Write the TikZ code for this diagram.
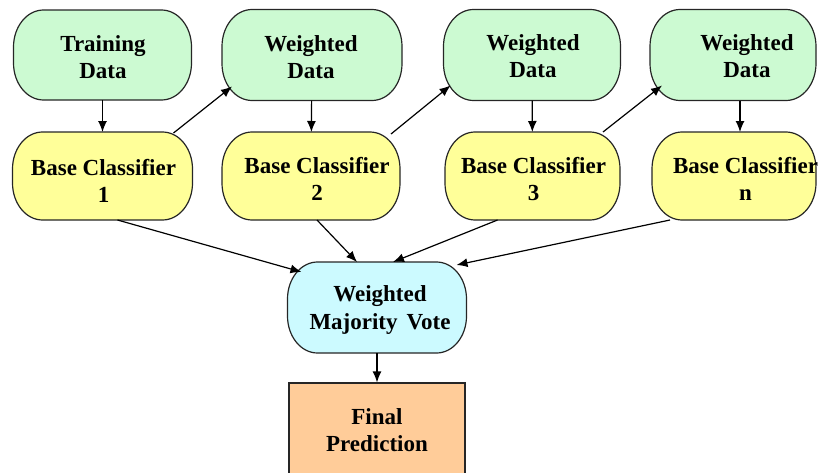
\documentclass[tikz,border=0pt]{standalone}
\usepackage{fontspec}
\setmainfont{Liberation Serif}
\usetikzlibrary{arrows.meta,calc}
\definecolor{gfill}{RGB}{204,250,210}
\definecolor{yfill}{RGB}{255,255,153}
\definecolor{cfill}{RGB}{204,250,255}
\definecolor{ofill}{RGB}{255,204,153}
\newcommand\myovalbox[2]{%
  \path[boxline, fill=#2] let \p1=(#1.north west), \p2=(#1.south east) in
   (\x1+30pt,\y1) -- (\x2-30pt,\y1)
   arc[start angle=90,end angle=0,x radius=30pt,y radius=37pt] -- (\x2,\y2+37pt)
   arc[start angle=0,end angle=-90,x radius=30pt,y radius=37pt] -- (\x1+30pt,\y2)
   arc[start angle=270,end angle=180,x radius=30pt,y radius=37pt] -- (\x1,\y1-37pt)
   arc[start angle=180,end angle=90,x radius=30pt,y radius=37pt] -- cycle;}
\begin{document}
\begin{tikzpicture}[x=1pt,y=-1pt,
  boxline/.style={draw=black!85, line width=1.2pt},
  framenode/.style={inner sep=0pt, outer sep=0pt},
  txt/.style={inner sep=0pt, align=center, font=\fontsize{23}{27.5}\selectfont\bfseries},
  orangebox/.style={boxline, fill=ofill, inner sep=0pt},
  arr/.style={draw=black, line width=1.2pt, -{Latex[length=11pt,width=9pt]}}]
\useasboundingbox (0,0) rectangle (819,472);
\clip (0,0) rectangle (819,472);
% frame nodes (outlines drawn below)
\node[framenode, minimum width=178pt, minimum height=90pt] (td) at (102.5,55) {};
\node[framenode, minimum width=180pt, minimum height=91pt] (wd1) at (312,55) {};
\node[framenode, minimum width=177pt, minimum height=91pt] (wd2) at (532,55) {};
\node[framenode, minimum width=166pt, minimum height=91pt] (wd3) at (733,55) {};
\node[framenode, minimum width=180pt, minimum height=88pt] (bc1) at (102.5,176) {};
\node[framenode, minimum width=178pt, minimum height=88pt] (bc2) at (311,176) {};
\node[framenode, minimum width=175pt, minimum height=88pt] (bc3) at (532.5,176) {};
\node[framenode, minimum width=164pt, minimum height=88pt] (bcn) at (734,176) {};
\node[framenode, minimum width=179pt, minimum height=91pt] (wmv) at (377,307.5) {};
\myovalbox{td}{gfill}
\myovalbox{wd1}{gfill}
\myovalbox{wd2}{gfill}
\myovalbox{wd3}{gfill}
\myovalbox{bc1}{yfill}
\myovalbox{bc2}{yfill}
\myovalbox{bc3}{yfill}
\myovalbox{bcn}{yfill}
\myovalbox{wmv}{cfill}
\node[orangebox, minimum width=176pt, minimum height=94pt] (fp) at (377,430) {};
% texts
\node[txt] (tdt) at (103,57) {Training\\Data};
\node[txt] (wd1t) at (311,57) {Weighted\\Data};
\node[txt] (wd2t) at (533,56) {Weighted\\Data};
\node[txt] (wd3t) at (747,56) {Weighted\\Data};
\node[txt] (bc1t) at (103.5,181) {Base Classifier\\1};
\node[txt] (bc2t) at (317,179) {Base Classifier\\2};
\node[txt] (bc3t) at (533.5,179) {Base Classifier\\3};
\node[txt] (bcnt) at (745.5,179) {Base Classifier\\n};
\node[txt] (wmvt) at (380,310) {Weighted\\Majority\hspace{9pt}Vote};
\node[txt] (fpt) at (377,430) {Final\\Prediction};
% connectors
\draw[arr] (td) -- (bc1);
\draw[arr] (wd1) -- (bc2);
\draw[arr] (wd2) -- (bc3);
\draw[arr] ($(wd3.south)+(7,0)$) -- ($(bcn.north)+(6,0)$);
\draw[arr] ($(bc1.north east)+(-19,1)$) -- ($(wd1.south west)+(10,-14)$);
\draw[arr] ($(bc2.north east)+(-9,2)$) -- ($(wd2.south west)+(7,-15)$);
\draw[arr] ($(bc3.north east)+(-17,0)$) -- ($(wd3.south west)+(12,-15)$);
\draw[arr] ($(bc1.south)+(15,0)$) -- ($(wmv.north west)+(14,10)$);
\draw[arr] ($(bc2.south)+(6,0)$) -- ($(wmv.north)+(-20,0)$);
\draw[arr] ($(bc3.south)+(-35,0)$) -- ($(wmv.north)+(16,0)$);
\draw[arr] ($(bcn.south west)+(18,0)$) -- ($(wmv.north east)+(-10,3)$);
\draw[arr] (wmv) -- (fp);
\end{tikzpicture}
\end{document}
